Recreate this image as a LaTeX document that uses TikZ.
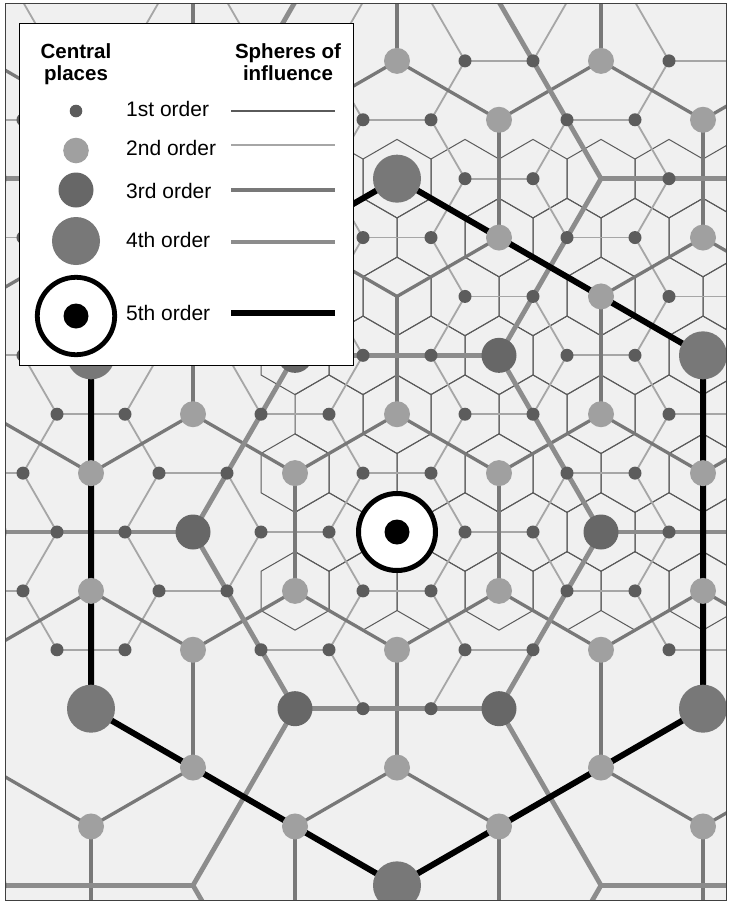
\documentclass[tikz,border=0pt]{standalone}
\usepackage{fontspec}
\setmainfont{Liberation Sans}
\definecolor{bgc}{HTML}{F0F0F0}
\definecolor{dotA}{HTML}{5C5C5C}
\definecolor{dotB}{HTML}{A0A0A0}
\definecolor{dotC}{HTML}{676767}
\definecolor{dotD}{HTML}{787878}
\definecolor{lnA}{HTML}{5A5A5A}
\definecolor{lnB}{HTML}{A6A6A6}
\definecolor{lnC}{HTML}{787878}
\definecolor{lnD}{HTML}{8C8C8C}
\tikzset{
  lineA/.style={draw=lnA,line width=1pt,line join=miter},
  lineB/.style={draw=lnB,line width=1.8pt,line cap=round},
  lineC/.style={draw=lnC,line width=3.3pt,line cap=round},
  lineD/.style={draw=lnD,line width=4.8pt,line cap=round},
  lineE/.style={draw=black,line width=6pt,line join=round},
  lbl/.style={anchor=base west,font=\fontsize{21}{24}\selectfont,inner sep=0pt},
  hdr/.style={anchor=base,font=\bfseries\fontsize{20.5}{23}\selectfont,inner sep=0pt}
}
\begin{document}
\begin{tikzpicture}[x=1pt,y=-1pt]
\useasboundingbox (0,0) rectangle (729,903);
\fill[white] (0,0) rectangle (729,903);
\fill[bgc] (5,3.5) rectangle (726,900);
\begin{scope}
\clip (5,3.5) rectangle (726,900);
% ---- 1st order spheres (small hexagons)
\foreach \j in {-1,...,6}{
  \foreach \i in {-10,...,10}{
    \pgfmathsetmacro\X{397+68*\i+34*\j}
    \pgfmathsetmacro\Y{532-58.89*\j}
    \pgfmathtruncatemacro\ok{and(\X>289,\X<780)}
    \ifnum\ok=1
      \draw[lineA] (\X,\Y-39.26) -- ++(34,19.63) -- ++(0,39.26) -- ++(-34,19.63) -- ++(-34,-19.63) -- ++(0,-39.26) -- cycle;
    \fi
  }
}
% ---- 2nd order spheres
\foreach \j in {-3,...,10}{
  \foreach \i in {-16,...,14}{
    \pgfmathsetmacro\X{397+68*\i+34*\j}
    \pgfmathtruncatemacro\inr{and(\X>-120,\X<850)}
    \ifnum\inr=1
      \pgfmathsetmacro\Y{532-58.89*\j}
      \pgfmathtruncatemacro\rr{Mod(\i-\j,3)}
      \pgfmathtruncatemacro\pin{or(\j>-3,and(\j==-3,or(\i==1,\i==2)))}
      \ifnum\pin=1
        \ifnum\rr=1
          \pgfmathtruncatemacro\qin{or(\j>-3,and(\j==-3,or(\i==0,\i==1)))}
          \ifnum\qin=1 \draw[lineB] (\X,\Y) -- ++(68,0); \fi
          \draw[lineB] (\X,\Y) -- ++(-34,-58.89);
        \fi
        \ifnum\rr=2
          \draw[lineB] (\X,\Y) -- ++(34,-58.89);
        \fi
      \fi
    \fi
  }
}
% ---- 3rd order spheres
\foreach \j in {-9,...,11}{
  \foreach \i in {-18,...,16}{
    \pgfmathsetmacro\X{397+68*\i+34*\j}
    \pgfmathtruncatemacro\inr{and(\X>-250,\X<1000)}
    \ifnum\inr=1
      \pgfmathsetmacro\Y{532-58.89*\j}
      \pgfmathtruncatemacro\two{and(Mod(\i-\j,3)==0,not(and(Mod(\i,3)==0,Mod(\j,3)==0)))}
      \ifnum\two=1
        \pgfmathtruncatemacro\qa{not(and(Mod(\i+1,3)==0,Mod(\j+1,3)==0))}
        \pgfmathtruncatemacro\qb{not(and(Mod(\i-1,3)==0,Mod(\j+2,3)==0))}
        \pgfmathtruncatemacro\qc{not(and(Mod(\i-2,3)==0,Mod(\j+1,3)==0))}
        \ifnum\qa=1 \draw[lineC] (\X,\Y) -- ++(102,-58.89); \fi
        \ifnum\qb=1 \draw[lineC] (\X,\Y) -- ++(0,-117.78); \fi
        \ifnum\qc=1 \draw[lineC] (\X,\Y) -- ++(-102,-58.89); \fi
      \fi
    \fi
  }
}
% ---- 4th order spheres
\foreach \j in {-9,...,12}{
  \foreach \i in {-18,...,16}{
    \pgfmathsetmacro\X{397+68*\i+34*\j}
    \pgfmathtruncatemacro\inr{and(\X>-300,\X<1050)}
    \ifnum\inr=1
      \pgfmathsetmacro\Y{532-58.89*\j}
      \pgfmathtruncatemacro\thr{and(and(Mod(\i,3)==0,Mod(\j,3)==0),Mod(\i-\j,9)>0)}
      \ifnum\thr=1
        \pgfmathtruncatemacro\qa{Mod(\i+3-\j,9)>0}
        \pgfmathtruncatemacro\qb{Mod(\i-\j-3,9)>0}
        \pgfmathtruncatemacro\qc{Mod(\i-\j-6,9)>0}
        \ifnum\qa=1 \draw[lineD] (\X,\Y) -- ++(204,0); \fi
        \ifnum\qb=1 \draw[lineD] (\X,\Y) -- ++(102,-176.67); \fi
        \ifnum\qc=1 \draw[lineD] (\X,\Y) -- ++(-102,-176.67); \fi
      \fi
    \fi
  }
}
% ---- 5th order sphere
\draw[lineE] (397,178.66) -- (703,355.33) -- (703,708.67) -- (397,885.34) -- (91,708.67) -- (91,355.33) -- cycle;
% ---- central places
\foreach \j in {-6,...,8}{
  \foreach \i in {-14,...,14}{
    \pgfmathsetmacro\X{397+68*\i+34*\j}
    \pgfmathtruncatemacro\inr{and(\X>-30,\X<760)}
    \ifnum\inr=1
      \pgfmathsetmacro\Y{532-58.89*\j}
      \pgfmathtruncatemacro\om{or(or(and(\i==-2,\j==4),and(\i==0,\j==6)),or(or(and(\i==0,\j==-6),and(\i==6,\j==-6)),and(\i==-6,\j==6)))}
      \pgfmathtruncatemacro\oa{Mod(\i-\j,3)==0}
      \pgfmathtruncatemacro\ob{and(Mod(\i,3)==0,Mod(\j,3)==0)}
      \pgfmathtruncatemacro\oc{and(\ob==1,Mod(\i-\j,9)==0)}
      \pgfmathtruncatemacro\od{and(Mod(\i,9)==0,Mod(\j,9)==0)}
      \pgfmathtruncatemacro\ord{1+\oa+\ob+\oc+\od}
      \pgfmathtruncatemacro\pin{or(\j>-3,and(\j==-3,or(\i==1,\i==2)))}
      \ifnum\om=0
        \ifnum\ord=1 \ifnum\pin=1 \fill[dotA] (\X,\Y) circle (6.5); \fi\fi
        \ifnum\ord=2 \fill[dotB] (\X,\Y) circle (13); \fi
        \ifnum\ord=3 \fill[dotC] (\X,\Y) circle (17.5); \fi
        \ifnum\ord=4 \fill[dotD] (\X,\Y) circle (24); \fi
      \fi
    \fi
  }
}
\fill[white] (397,532) circle (40);
\draw[black,line width=5pt] (397,532) circle (38.5);
\fill[black] (397,532) circle (12.5);
\end{scope}
\draw[black!75,line width=0.8pt] (5,3.5) rectangle (726,900);
% ---- legend
\filldraw[fill=white,draw=black,line width=0.8pt] (19,23) rectangle (353,365);
\node[hdr] (h1) at (76,58) {Central};
\node[hdr] (h2) at (76,80.5) {places};
\node[hdr] (h3) at (288,58) {Spheres of};
\node[hdr] (h4) at (288,80.5) {influence};
\fill[dotA] (76,111) circle (6.3);
\fill[dotB] (76,150.5) circle (12.8);
\fill[dotC] (76,190) circle (17.5);
\fill[dotD] (76,241) circle (24);
\draw[black,line width=4.8pt] (76,316) circle (38.7);
\fill[black] (76,316) circle (12.5);
\node[lbl] (o1) at (126,116) {1st order};
\node[lbl] (o2) at (126,155) {2nd order};
\node[lbl] (o3) at (126,198) {3rd order};
\node[lbl] (o4) at (126,247) {4th order};
\node[lbl] (o5) at (126,320) {5th order};
\draw[draw=lnA,line width=1.2pt] (231,111) -- (335,111);
\draw[draw=lnB,line width=1.8pt] (231,145) -- (335,145);
\draw[draw=lnC,line width=3.5pt] (231,190) -- (335,190);
\draw[draw=lnD,line width=4.8pt] (231,242) -- (335,242);
\draw[draw=black,line width=5.8pt] (231,313) -- (335,313);
\end{tikzpicture}
\end{document}
